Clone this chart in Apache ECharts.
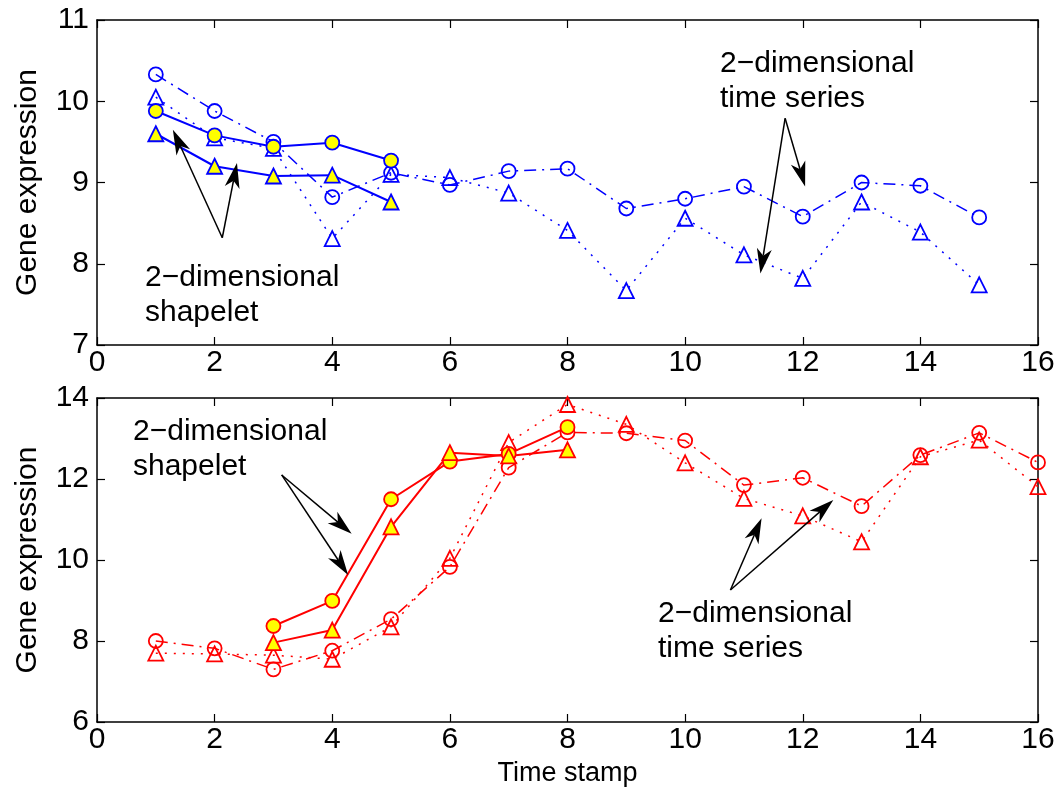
<!DOCTYPE html>
<html>
<head>
<meta charset="utf-8">
<script src="https://cdn.jsdelivr.net/npm/echarts@6/dist/echarts.min.js"></script>
<style>
  html, body { margin: 0; padding: 0; background: #fff; }
  #chart { width: 1063px; height: 793px; }
</style>
</head>
<body>
<div id="chart"></div>
<script>
// time stamps
var tsX = [1, 2, 3, 4, 5, 6, 7, 8, 9, 10, 11, 12, 13, 14, 15];
var tsXBottom = [1, 2, 3, 4, 5, 6, 7, 8, 9, 10, 11, 12, 13, 14, 15, 16];
var shapeXTop = [1, 2, 3, 4, 5];
var shapeXBottom = [3, 4, 5, 6, 7, 8];

// top panel (blue)
var topSeriesCircle = [10.33, 9.88, 9.50, 8.82, 9.12, 8.97, 9.14, 9.17, 8.68, 8.80, 8.95, 8.58, 9.00, 8.96, 8.57];
var topSeriesTri = [10.05, 9.55, 9.42, 8.31, 9.10, 9.06, 8.87, 8.41, 7.67, 8.56, 8.11, 7.82, 8.76, 8.39, 7.74];
var topShapeCircle = [9.88, 9.58, 9.44, 9.49, 9.27];
var topShapeTri = [9.60, 9.20, 9.08, 9.09, 8.76];

// bottom panel (red)
var botSeriesCircle = [8.00, 7.82, 7.30, 7.76, 8.54, 9.83, 12.28, 13.15, 13.13, 12.95, 11.85, 12.03, 11.33, 12.59, 13.14, 12.41];
var botSeriesTri = [7.70, 7.68, 7.65, 7.55, 8.35, 10.04, 12.90, 13.84, 13.35, 12.40, 11.52, 11.09, 10.45, 12.55, 12.96, 11.81];
var botShapeCircle = [8.37, 8.99, 11.50, 12.43, 12.62, 13.28];
var botShapeTri = [7.96, 8.27, 10.82, 12.65, 12.57, 12.72];

// annotation arrows [x1, y1, x2, y2] in data units (tail -> tip)
var topArrows = [[2.13, 8.32, 1.29, 9.65], [2.13, 8.32, 2.38, 9.24],
                 [11.70, 9.79, 12.04, 8.95], [11.70, 9.79, 11.28, 7.88]];
var botArrows = [[3.14, 12.10, 4.33, 10.65], [3.14, 12.10, 4.27, 9.63],
                 [10.77, 9.26, 11.30, 11.03], [10.77, 9.26, 12.52, 11.48]];

var FONT = 'Liberation Sans, Arial, Helvetica, sans-serif';

function pairs(xs, ys) {
    return xs.map(function (x, i) { return [x, ys[i]]; });
}

// arrow with a narrow notched head, drawn through the axis scales
function renderArrow(params, api) {
    var a = api.coord([api.value(0), api.value(1)]);
    var b = api.coord([api.value(2), api.value(3)]);
    var dx = b[0] - a[0], dy = b[1] - a[1];
    var len = Math.sqrt(dx * dx + dy * dy);
    var ux = dx / len, uy = dy / len, nx = -uy, ny = ux;
    var L = 25, W = 7.5, N = 18;
    var back = [b[0] - ux * L, b[1] - uy * L];
    var notch = [b[0] - ux * N, b[1] - uy * N];
    return {
        type: 'group',
        children: [
            {type: 'line', shape: {x1: a[0], y1: a[1], x2: notch[0], y2: notch[1]},
             style: {stroke: '#000', lineWidth: 1.5}},
            {type: 'polygon', shape: {points: [
                b, [back[0] + nx * W, back[1] + ny * W], notch, [back[0] - nx * W, back[1] - ny * W]
            ]}, style: {fill: '#000'}}
        ]
    };
}

function arrowSeries(idx, list) {
    return {
        type: 'custom',
        xAxisIndex: idx * 2,
        yAxisIndex: idx * 2,
        data: list,
        renderItem: renderArrow,
        silent: true,
        z: 5
    };
}

function mkSeries(idx, name, data, color, symbol, fill, dash, width) {
    return {
        name: name,
        type: 'line',
        xAxisIndex: idx * 2,
        yAxisIndex: idx * 2,
        data: data,
        symbol: symbol,
        symbolSize: symbol === 'triangle' ? 15 : 14,
        showSymbol: true,
        lineStyle: {color: color, type: dash, width: width},
        itemStyle: {color: fill, borderColor: color, borderWidth: 1.8},
        emphasis: {disabled: true}
    };
}

function xAx(idx, pos, labels) {
    return {
        type: 'value', gridIndex: idx, position: pos,
        min: 0, max: 16, interval: 2,
        axisLine: {show: true, onZero: false, lineStyle: {color: '#000', width: 1.5}},
        axisTick: {show: true, inside: true, length: 8, lineStyle: {color: '#000', width: 1.2}},
        axisLabel: {show: labels, color: '#000', fontSize: 30, fontFamily: FONT, margin: 3},
        splitLine: {show: false}
    };
}

function yAx(idx, pos, min, max, step, labels) {
    return {
        type: 'value', gridIndex: idx, position: pos,
        min: min, max: max, interval: step,
        axisLine: {show: true, onZero: false, lineStyle: {color: '#000', width: 1.5}},
        axisTick: {show: true, inside: true, length: 8, lineStyle: {color: '#000', width: 1.2}},
        axisLabel: {show: labels, color: '#000', fontSize: 30, fontFamily: FONT, margin: 8},
        splitLine: {show: false},
        name: labels ? 'Gene expression' : '',
        nameLocation: 'middle',
        nameGap: 54,
        nameTextStyle: {color: '#000', fontSize: 30, fontFamily: FONT}
    };
}

var bottomX = xAx(1, 'bottom', true);
bottomX.name = 'Time stamp';
bottomX.nameLocation = 'middle';
bottomX.nameGap = 38;
bottomX.nameTextStyle = {color: '#000', fontSize: 27, fontFamily: FONT};

function note(left, top, lines) {
    return {
        type: 'text', left: left, top: top, z: 100,
        style: {text: lines, fill: '#000', font: '30px ' + FONT, lineHeight: 35}
    };
}

var option = {
    animation: false,
    backgroundColor: '#fff',
    grid: [
        {left: 97, top: 20, width: 941, height: 325},
        {left: 97, top: 398, width: 941, height: 324}
    ],
    xAxis: [xAx(0, 'bottom', true), xAx(0, 'top', false), bottomX, xAx(1, 'top', false)],
    yAxis: [
        yAx(0, 'left', 7, 11, 1, true), yAx(0, 'right', 7, 11, 1, false),
        yAx(1, 'left', 6, 14, 2, true), yAx(1, 'right', 6, 14, 2, false)
    ],
    series: [
        mkSeries(0, 'top series dim 1', pairs(tsX, topSeriesCircle), '#0000ff', 'circle', 'rgba(0,0,0,0)', [12, 6, 2, 6], 1.5),
        mkSeries(0, 'top series dim 2', pairs(tsX, topSeriesTri), '#0000ff', 'triangle', 'rgba(0,0,0,0)', [2, 7], 1.5),
        mkSeries(0, 'top shapelet dim 1', pairs(shapeXTop, topShapeCircle), '#0000ff', 'circle', '#ffff00', 'solid', 2),
        mkSeries(0, 'top shapelet dim 2', pairs(shapeXTop, topShapeTri), '#0000ff', 'triangle', '#ffff00', 'solid', 2),
        mkSeries(1, 'bottom series dim 1', pairs(tsXBottom, botSeriesCircle), '#ff0000', 'circle', 'rgba(0,0,0,0)', [12, 6, 2, 6], 1.5),
        mkSeries(1, 'bottom series dim 2', pairs(tsXBottom, botSeriesTri), '#ff0000', 'triangle', 'rgba(0,0,0,0)', [2, 7], 1.5),
        mkSeries(1, 'bottom shapelet dim 1', pairs(shapeXBottom, botShapeCircle), '#ff0000', 'circle', '#ffff00', 'solid', 2),
        mkSeries(1, 'bottom shapelet dim 2', pairs(shapeXBottom, botShapeTri), '#ff0000', 'triangle', '#ffff00', 'solid', 2),
        arrowSeries(0, topArrows),
        arrowSeries(1, botArrows)
    ],
    graphic: [
        note(145, 260, '2\u2212dimensional\nshapelet'),
        note(720, 46, '2\u2212dimensional\ntime series'),
        note(133, 414, '2\u2212dimensional\nshapelet'),
        note(658, 596, '2\u2212dimensional\ntime series')
    ]
};

var chart = echarts.init(document.getElementById('chart'), null, {renderer: 'canvas'});
chart.setOption(option);
</script>
</body>
</html>
